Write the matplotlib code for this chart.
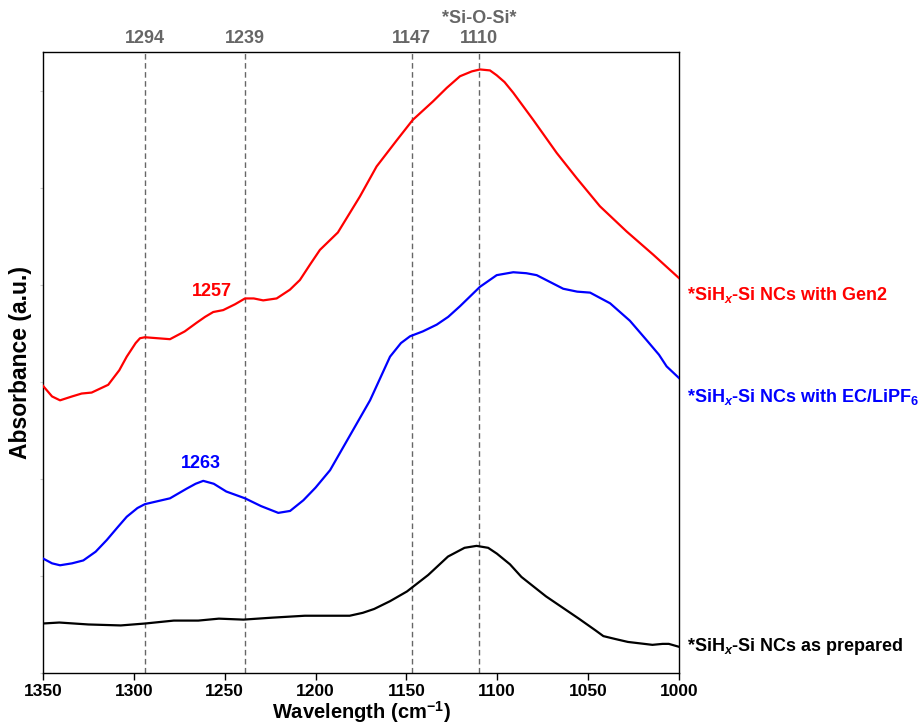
#!/usr/bin/env python3
"""
FTIR absorbance spectra of SiHx-Si NCs (as prepared, EC/LiPF6, Gen2).
"""

import matplotlib
matplotlib.use('Agg')
import matplotlib.pyplot as plt

plt.rcParams['font.family'] = ['Liberation Sans', 'DejaVu Sans']
plt.rcParams['mathtext.fontset'] = 'custom'
plt.rcParams['mathtext.rm'] = 'Liberation Sans:bold'
plt.rcParams['mathtext.it'] = 'Liberation Sans:italic:bold'
plt.rcParams['mathtext.bf'] = 'Liberation Sans:bold'

# Data (wavenumber in cm^-1, absorbance a.u.)
gen2_wn = [1350, 1345, 1340.6, 1334, 1328.7, 1323.2, 1314.1, 1308, 1303.9, 1299,
           1296.6, 1293.9, 1287, 1280.1, 1272, 1265.4, 1260.8, 1256.3, 1250.8,
           1244.3, 1238.8, 1234, 1228.8, 1221.4, 1214.1, 1208.6, 1203, 1197.6,
           1187.7, 1175.6, 1166.4, 1155.3, 1146.5, 1135.4, 1127.8, 1120.5, 1114,
           1109.5, 1104, 1100.3, 1096, 1091.2, 1080.2, 1067.3, 1056.3, 1043.5,
           1028.8, 1014.1, 1000]
gen2_abs = [0.296, 0.285, 0.281, 0.285, 0.288, 0.289, 0.297, 0.312, 0.326, 0.340,
            0.345, 0.346, 0.345, 0.344, 0.352, 0.361, 0.367, 0.372, 0.374,
            0.380, 0.386, 0.386, 0.384, 0.386, 0.395, 0.405, 0.421, 0.436,
            0.454, 0.491, 0.522, 0.549, 0.570, 0.589, 0.603, 0.615, 0.620,
            0.622, 0.621, 0.616, 0.609, 0.598, 0.570, 0.536, 0.510, 0.481,
            0.455, 0.431, 0.407]

ec_wn = [1350, 1345, 1340.6, 1334, 1327.8, 1321, 1314.9, 1309, 1303.9, 1298,
         1293.9, 1287, 1280.1, 1270.9, 1266, 1261.8, 1256, 1249.1, 1238.8, 1230,
         1220.5, 1214, 1206.7, 1200, 1192.0, 1181.0, 1170.0, 1159.0, 1153, 1148.0,
         1141, 1133.3, 1127, 1120.5, 1109.5, 1100.3, 1091.2, 1084, 1078.3, 1071,
         1063.7, 1056, 1048.9, 1037.9, 1027, 1017.8, 1011, 1006.8, 1000]
ec_abs = [0.118, 0.113, 0.111, 0.113, 0.116, 0.125, 0.137, 0.150, 0.161, 0.170,
          0.174, 0.177, 0.180, 0.190, 0.195, 0.198, 0.195, 0.187, 0.180, 0.172,
          0.165, 0.167, 0.178, 0.191, 0.209, 0.245, 0.281, 0.326, 0.340, 0.347,
          0.352, 0.359, 0.367, 0.378, 0.398, 0.410, 0.413, 0.412, 0.410, 0.403,
          0.396, 0.393, 0.392, 0.381, 0.363, 0.343, 0.328, 0.316, 0.304]

prep_wn = [1350, 1341, 1325, 1307.2, 1293.7, 1278, 1264.5, 1253.2, 1239.7, 1224,
           1205.9, 1181.2, 1174, 1167.7, 1159, 1149.7, 1138, 1127.1, 1118, 1111.4,
           1105, 1100.2, 1093, 1086.7, 1073.2, 1055.1, 1046, 1041.6, 1035, 1028.1,
           1014.6, 1009, 1005.6, 1000]
prep_abs = [0.051, 0.052, 0.050, 0.049, 0.051, 0.054, 0.054, 0.056, 0.055, 0.057,
            0.059, 0.059, 0.062, 0.066, 0.074, 0.084, 0.101, 0.120, 0.129, 0.131,
            0.129, 0.123, 0.112, 0.099, 0.079, 0.056, 0.044, 0.038, 0.035, 0.032,
            0.029, 0.030, 0.030, 0.027]

ref_lines = [1294, 1239, 1147, 1110]
x_ticks = [1350, 1300, 1250, 1200, 1150, 1100, 1050, 1000]

series_labels = [r'*SiH$_{\mathit{x}}$-Si NCs with Gen2',
                 r'*SiH$_{\mathit{x}}$-Si NCs with EC/LiPF$_6$',
                 r'*SiH$_{\mathit{x}}$-Si NCs as prepared']
series_colors = ['#ff0000', '#0000ff', '#000000']
label_y = [0.390, 0.284, 0.027]

fig = plt.figure(figsize=(9.22, 7.27), dpi=100)
ax = fig.add_axes([0.0466, 0.0743, 0.6898, 0.8542])

for wn in ref_lines:
    ax.axvline(wn, color='#666666', linestyle='--', linewidth=1.0, dashes=(4, 2.5), zorder=1)

ax.plot(gen2_wn, gen2_abs, color=series_colors[0], linewidth=1.6, zorder=3)
ax.plot(ec_wn, ec_abs, color=series_colors[1], linewidth=1.6, zorder=3)
ax.plot(prep_wn, prep_abs, color=series_colors[2], linewidth=1.6, zorder=3)

ax.set_xlim(1350, 1000)
ax.set_ylim(0, 0.640)
ax.set_xticks(x_ticks)
ax.set_yticks([0.1 * i for i in range(7)])
ax.tick_params(axis='x', direction='out', length=5, width=1, labelsize=12.5, pad=3)
ax.tick_params(axis='y', direction='out', length=2, width=0.8, colors='#cccccc',
               labelleft=False)
for lab in ax.get_xticklabels():
    lab.set_fontweight('bold')
for sp in ax.spines.values():
    sp.set_color('black')
    sp.set_linewidth(1.0)

ax.set_xlabel(r'Wavelength (cm$^{\mathregular{-1}}$)', fontsize=14.5, fontweight='bold', labelpad=0)
ax.set_ylabel('Absorbance (a.u.)', fontsize=16.5, fontweight='bold', labelpad=6)

# peak labels above the plot
for wn in ref_lines:
    ax.text(wn, 1.008, str(wn), transform=ax.get_xaxis_transform(), ha='center',
            va='bottom', fontsize=13, fontweight='bold', color='#666666')
ax.text(1110, 1.04, '*Si-O-Si*', transform=ax.get_xaxis_transform(), ha='center',
        va='bottom', fontsize=13, fontweight='bold', color='#666666')

# band annotations
ax.text(1257, 0.393, '1257', ha='center', va='center', fontsize=13,
        fontweight='bold', color=series_colors[0])
ax.text(1263, 0.216, '1263', ha='center', va='center', fontsize=13,
        fontweight='bold', color=series_colors[1])

# series labels on the right
for text, col, yv in zip(series_labels, series_colors, label_y):
    ax.text(1.012, yv, text, transform=ax.get_yaxis_transform(), ha='left',
            va='center', fontsize=13, fontweight='bold', color=col, clip_on=False)

fig.savefig('out.png', dpi=100)
plt.close(fig)
